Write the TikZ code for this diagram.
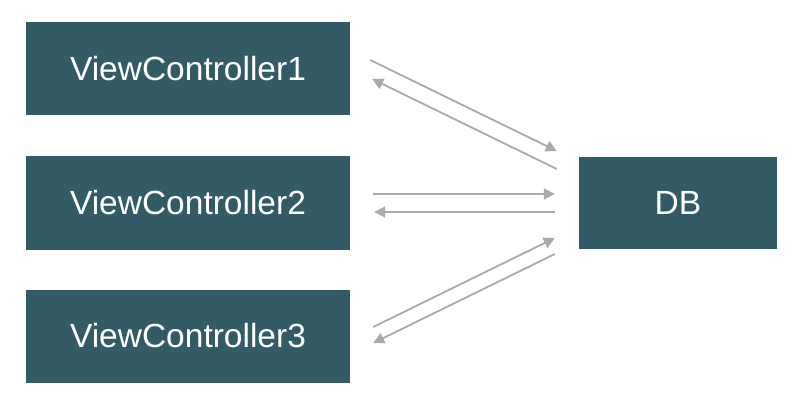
\documentclass[tikz,border=0pt]{standalone}
\usepackage{fontspec}
\setmainfont{Liberation Sans}
\usepackage{tikz}
\usetikzlibrary{arrows.meta}
\definecolor{boxteal}{HTML}{335B66}
\definecolor{linkgray}{HTML}{AAAAAA}

\begin{document}
\begin{tikzpicture}[x=1pt,y=-1pt,
    vcbox/.style={fill=boxteal,text=white,inner sep=0pt,minimum height=93pt,
        font=\fontsize{33.5}{40}\selectfont},
    link/.style={draw=linkgray,line width=1.8pt,-{Triangle[length=11pt,width=11pt]}}]
    \useasboundingbox (0,0) rectangle (809,401);

    \node (vc1) [vcbox,minimum width=324pt] at (188,69) {ViewController1};
    \node (vc2) [vcbox,minimum width=324pt] at (188,203) {ViewController2};
    \node (vc3) [vcbox,minimum width=324pt] at (188,336) {ViewController3};
    \node (db) [vcbox,minimum width=198pt,minimum height=92pt] at (678,203) {DB};

    \draw[link] ([shift={(20,-9)}]vc1.east) -- ([shift={(-22,-52)}]db.west);
    \draw[link] ([shift={(-22,-34)}]db.west) -- ([shift={(22,10)}]vc1.east);

    \draw[link] ([shift={(23,-9)}]vc2.east) -- ([shift={(-24,-9)}]db.west);
    \draw[link] ([shift={(-24,9)}]db.west) -- ([shift={(24,9)}]vc2.east);

    \draw[link] ([shift={(23,-9)}]vc3.east) -- ([shift={(-24,35)}]db.west);
    \draw[link] ([shift={(-24,51)}]db.west) -- ([shift={(23,7)}]vc3.east);
\end{tikzpicture}
\end{document}
